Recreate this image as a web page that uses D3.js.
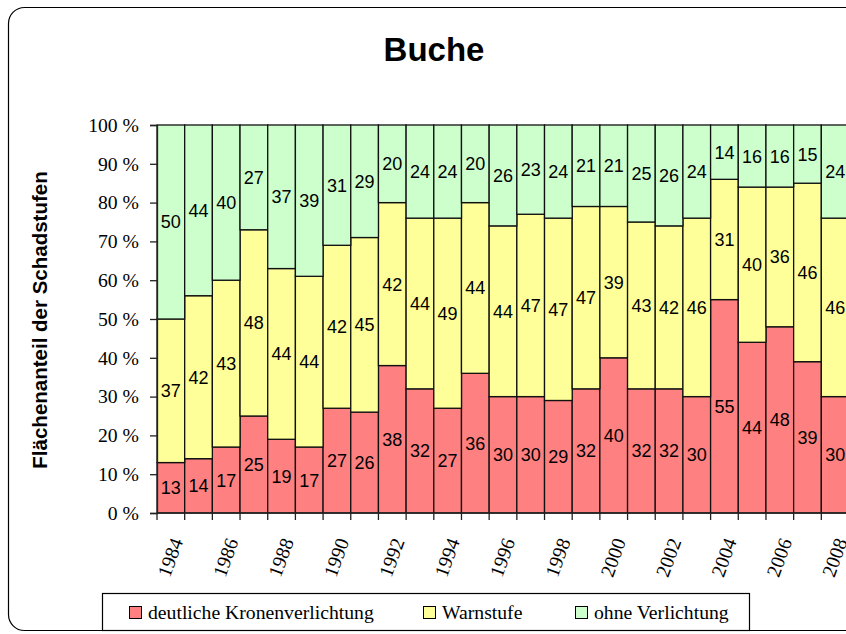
<!DOCTYPE html>
<html>
<head>
<meta charset="utf-8">
<script src="https://cdn.jsdelivr.net/npm/d3@7"></script>
<style>
  body { margin: 0; background: #fff; }
  svg { display: block; }
  .lbl { font-family: "Liberation Sans", Arial, sans-serif; font-size: 18px; fill: #000; }
  .serif { font-family: "Liberation Serif", "Times New Roman", serif; font-size: 19.7px; fill: #000; }
</style>
</head>
<body>
<svg width="846" height="634"></svg>
<script>
// years on the x axis
var years = [1984,1985,1986,1987,1988,1989,1990,1991,1992,1993,1994,1995,1996,
             1997,1998,1999,2000,2001,2002,2003,2004,2005,2006,2007,2008];
// deutliche Kronenverlichtung
var deutlich = [13,14,17,25,19,17,27,26,38,32,27,36,30,30,29,32,40,32,32,30,55,44,48,39,30];
// Warnstufe
var warn = [37,42,43,48,44,44,42,45,42,44,49,44,44,47,47,47,39,43,42,46,31,40,36,46,46];
// ohne Verlichtung
var ohne = [50,44,40,27,37,39,31,29,20,24,24,20,26,23,24,21,21,25,26,24,14,16,16,15,24];

var seriesNames = ["deutliche Kronenverlichtung", "Warnstufe", "ohne Verlichtung"];
var colors = ["#ff8080", "#ffff99", "#ccffcc"];
var yTicks = [0,10,20,30,40,50,60,70,80,90,100];

var svg = d3.select("svg");

// outer rounded frame (runs off the right edge)
svg.append("rect")
  .attr("x", 8.5).attr("y", 7.5)
  .attr("width", 900).attr("height", 623)
  .attr("rx", 16).attr("ry", 16)
  .attr("fill", "#fff").attr("stroke", "#000").attr("stroke-width", 1.2);

// title
svg.append("text")
  .attr("x", 434).attr("y", 61)
  .attr("text-anchor", "middle")
  .style("font-family", "Liberation Sans, Arial, sans-serif")
  .style("font-weight", "bold").style("font-size", "33px")
  .text("Buche");

var plotLeft = 157, plotTop = 125, plotBottom = 513, step = 27.68;

var x = d3.scaleBand()
  .domain(years)
  .range([plotLeft, plotLeft + step * years.length])
  .padding(0);

var y = d3.scaleLinear().domain([0, 100]).range([plotBottom, plotTop]);

// build stacked table
var table = years.map(function(yr, i) {
  return { year: yr, d: deutlich[i], w: warn[i], o: ohne[i] };
});
var stack = d3.stack().keys(["d", "w", "o"]);
var layers = stack(table);

var g = svg.append("g");
layers.forEach(function(layer, k) {
  var lg = g.append("g");
  lg.selectAll("rect")
    .data(layer)
    .enter().append("rect")
    .attr("x", function(p) { return x(p.data.year); })
    .attr("y", function(p) { return y(p[1]); })
    .attr("width", x.bandwidth())
    .attr("height", function(p) { return y(p[0]) - y(p[1]); })
    .attr("fill", colors[k])
    .attr("stroke", "#111")
    .attr("stroke-width", 1.3);
});

// value labels, centred in each segment
layers.forEach(function(layer, k) {
  g.append("g").selectAll("text")
    .data(layer)
    .enter().append("text")
    .attr("class", "lbl")
    .attr("x", function(p) { return x(p.data.year) + x.bandwidth() / 2; })
    .attr("y", function(p) { return (y(p[0]) + y(p[1])) / 2; })
    .attr("text-anchor", "middle")
    .attr("dy", "0.36em")
    .text(function(p) { return p[1] - p[0]; });
});

// y axis
var yAxis = d3.axisLeft(y)
  .tickValues(yTicks)
  .tickSize(7)
  .tickPadding(11)
  .tickFormat(function(d) { return d + " %"; });
var ya = svg.append("g").attr("transform", "translate(" + plotLeft + ",0)").call(yAxis);
ya.select(".domain").attr("stroke", "#222").attr("stroke-width", 1.3);
ya.selectAll(".tick line").attr("stroke", "#222").attr("stroke-width", 1.3);
ya.selectAll(".tick text")
  .attr("class", "serif")
  .style("font-size", "19.7px")
  .style("font-family", "Liberation Serif, Times New Roman, serif")
  .attr("fill", "#000");

// x axis line + boundary ticks
var xa = svg.append("g");
xa.append("line")
  .attr("x1", plotLeft).attr("x2", 846)
  .attr("y1", plotBottom).attr("y2", plotBottom)
  .attr("stroke", "#222").attr("stroke-width", 1.5);
var bounds = years.map(function(yr) { return x(yr); });
bounds.push(x(years[years.length - 1]) + x.bandwidth());
xa.selectAll("line.tk")
  .data(bounds)
  .enter().append("line")
  .attr("class", "tk")
  .attr("x1", function(d) { return d; }).attr("x2", function(d) { return d; })
  .attr("y1", plotBottom).attr("y2", plotBottom + 7)
  .attr("stroke", "#222").attr("stroke-width", 1.3);

xa.selectAll("text")
  .data(years.filter(function(yr) { return yr % 2 === 0; }))
  .enter().append("text")
  .attr("class", "serif")
  .attr("text-anchor", "end")
  .attr("transform", function(yr) {
    return "translate(" + (x(yr) + x.bandwidth() / 2 + 6) + "," + (plotBottom + 26) + ") rotate(-70)";
  })
  .attr("dy", "0.35em")
  .text(function(yr) { return yr; });

// y axis title
svg.append("text")
  .attr("transform", "translate(47,320) rotate(-90)")
  .attr("text-anchor", "middle")
  .style("font-family", "Liberation Sans, Arial, sans-serif")
  .style("font-weight", "bold").style("font-size", "20.5px")
  .text("Flächenanteil der Schadstufen");

// legend
var leg = svg.append("g");
leg.append("rect")
  .attr("x", 102.5).attr("y", 593.5)
  .attr("width", 647).attr("height", 37)
  .attr("fill", "#fff").attr("stroke", "#000").attr("stroke-width", 1.2);
var legX = [129, 423, 575];
seriesNames.forEach(function(name, k) {
  leg.append("rect")
    .attr("x", legX[k] + 0.5).attr("y", 606.5)
    .attr("width", 12).attr("height", 12)
    .attr("fill", colors[k]).attr("stroke", "#000").attr("stroke-width", 1);
  leg.append("text")
    .attr("class", "serif")
    .attr("x", legX[k] + 19).attr("y", 619)
    .text(name);
});
</script>
</body>
</html>
